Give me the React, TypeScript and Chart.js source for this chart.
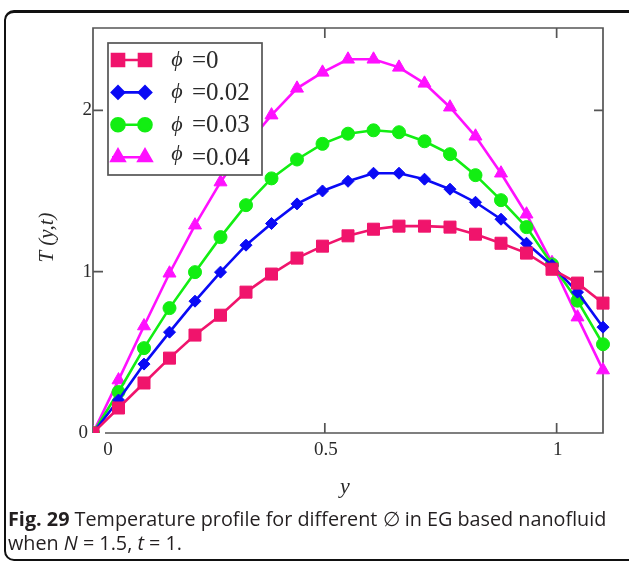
import React, { useEffect, useRef } from 'react';
import { Chart, registerables } from 'chart.js';
import { drawPoint } from 'chart.js/helpers';

Chart.register(...registerables);

// y positions (horizontal axis)
const yPositions = [0, 0.055, 0.11, 0.165, 0.22, 0.275, 0.33, 0.385, 0.44, 0.495, 0.55, 0.605, 0.66, 0.715, 0.77, 0.825, 0.88, 0.935, 0.99, 1.045, 1.1];

// T(y,t) for each phi
const tPhi0 = [0, 0.155, 0.31, 0.464, 0.607, 0.73, 0.873, 0.985, 1.084, 1.158, 1.222, 1.263, 1.282, 1.282, 1.276, 1.232, 1.176, 1.115, 1.015, 0.929, 0.805];
const tPhi002 = [0, 0.204, 0.427, 0.625, 0.817, 0.997, 1.164, 1.298, 1.42, 1.5, 1.56, 1.61, 1.61, 1.573, 1.511, 1.43, 1.325, 1.176, 1.04, 0.873, 0.656];
const tPhi003 = [0, 0.254, 0.526, 0.774, 0.997, 1.214, 1.412, 1.578, 1.695, 1.792, 1.855, 1.876, 1.864, 1.808, 1.728, 1.598, 1.443, 1.276, 1.045, 0.82, 0.55];
const tPhi004 = [0, 0.328, 0.663, 0.99, 1.288, 1.555, 1.78, 1.97, 2.136, 2.235, 2.316, 2.316, 2.266, 2.167, 2.019, 1.839, 1.61, 1.356, 1.055, 0.718, 0.39];

const seriesLabels = ['=0', '=0.02', '=0.03', '=0.04'];
const seriesColors = ['#f0146c', '#0a0af5', '#12ee12', '#ff10ff'];
const seriesStyles = ['rect', 'rectRot', 'circle', 'triangle'];
const seriesRadius = [8.5, 6, 6.5, 7.5];

const xTickValues = [0, 0.5, 1];
const xTickLabels = ['0', '0.5', '1'];
const yTickValues = [0, 1, 2];
const yTickLabels = ['0', '1', '2'];
const xTitle = 'y';
const yTitle = 'T (y,t)';
const phiSymbol = '\u03D5';

const X_MIN = 0;
const X_MAX = 1.1;
const Y_MIN = 0;
const Y_MAX = 2.51;

const AXIS_COLOR = '#555';
const TEXT_COLOR = '#2a2a2a';

const decorPlugin = {
  id: 'decor',
  beforeDatasetsDraw(chart: any) {
    const { ctx, chartArea: a, scales } = chart;
    const xs = scales.x;
    const ys = scales.y;
    ctx.save();
    ctx.strokeStyle = AXIS_COLOR;
    ctx.lineWidth = 1.7;
    ctx.beginPath();
    ctx.moveTo(a.left + 12, a.bottom);
    ctx.lineTo(a.right, a.bottom);
    ctx.lineTo(a.right, a.top);
    ctx.lineTo(a.left, a.top);
    ctx.lineTo(a.left, a.bottom);
    ctx.stroke();
    // ticks (inside)
    ctx.beginPath();
    xTickValues.forEach((v) => {
      if (v === X_MIN) return;
      const px = xs.getPixelForValue(v);
      ctx.moveTo(px, a.bottom);
      ctx.lineTo(px, a.bottom - 10);
      ctx.moveTo(px, a.top);
      ctx.lineTo(px, a.top + 10);
    });
    yTickValues.forEach((v) => {
      if (v === Y_MIN) return;
      const py = ys.getPixelForValue(v);
      ctx.moveTo(a.left, py);
      ctx.lineTo(a.left + 10, py);
      ctx.moveTo(a.right, py);
      ctx.lineTo(a.right - 9, py);
    });
    ctx.stroke();

    // tick labels
    ctx.fillStyle = TEXT_COLOR;
    ctx.font = '19px "Liberation Serif", "Times New Roman", serif';
    ctx.textAlign = 'center';
    ctx.textBaseline = 'middle';
    xTickValues.forEach((v, i) => {
      const px = xs.getPixelForValue(v) + (v === X_MIN ? 15 : 1);
      ctx.fillText(xTickLabels[i], px, a.bottom + 17);
    });
    ctx.textAlign = 'right';
    yTickValues.forEach((v, i) => {
      const py = ys.getPixelForValue(v);
      ctx.fillText(yTickLabels[i], a.left - (v === Y_MIN ? 5 : 1), py);
    });

    // axis titles
    ctx.font = 'italic 22px "Liberation Serif", "Times New Roman", serif';
    ctx.textAlign = 'center';
    ctx.fillText(xTitle, (a.left + a.right) / 2 - 3, a.bottom + 54);
    ctx.save();
    ctx.translate(47, (a.top + a.bottom) / 2 + 7);
    ctx.rotate(-Math.PI / 2);
    ctx.font = 'italic 21px "Liberation Serif", "Times New Roman", serif';
    ctx.fillText(yTitle, 0, 0);
    ctx.restore();
    ctx.restore();
  },
  afterDatasetsDraw(chart: any) {
    const { ctx, chartArea: a } = chart;
    ctx.save();
    const bx = a.left + 15;
    const by = a.top + 15;
    const bw = 154;
    const bh = 132;
    ctx.fillStyle = '#fff';
    ctx.fillRect(bx, by, bw, bh);
    ctx.strokeStyle = AXIS_COLOR;
    ctx.lineWidth = 1.7;
    ctx.strokeRect(bx, by, bw, bh);
    seriesLabels.forEach((lab, i) => {
      const ly = by + 17 + i * 32.4;
      const c = seriesColors[i];
      ctx.strokeStyle = c;
      ctx.fillStyle = c;
      ctx.lineWidth = 2.6;
      ctx.beginPath();
      ctx.moveTo(bx + 4, ly);
      ctx.lineTo(bx + 42, ly);
      ctx.stroke();
      const opts = { pointStyle: seriesStyles[i], rotation: 0, radius: seriesRadius[i], borderWidth: 1 };
      drawPoint(ctx, opts as any, bx + 10, ly);
      drawPoint(ctx, opts as any, bx + 37, ly);
      ctx.fillStyle = TEXT_COLOR;
      ctx.textBaseline = 'middle';
      ctx.textAlign = 'center';
      ctx.font = 'italic 22px "Liberation Serif", "DejaVu Serif", serif';
      ctx.fillText(phiSymbol, bx + 69, ly + (i === 3 ? -3 : 0));
      ctx.textAlign = 'left';
      ctx.font = '25px "Liberation Serif", "Times New Roman", serif';
      ctx.fillText(lab, bx + 84, ly + 1);
    });
    ctx.restore();
  },
};

export default function App() {
  const canvasRef = useRef<HTMLCanvasElement | null>(null);

  useEffect(() => {
    const canvas = canvasRef.current;
    if (!canvas) return;
    const series = [tPhi0, tPhi002, tPhi003, tPhi004];
    const chart = new Chart(canvas, {
      type: 'line',
      data: {
        datasets: series.map((vals, i) => ({
          label: seriesLabels[i],
          data: yPositions.map((x, j) => ({ x, y: vals[j] })),
          borderColor: seriesColors[i],
          backgroundColor: seriesColors[i],
          pointBackgroundColor: seriesColors[i],
          pointBorderColor: seriesColors[i],
          borderWidth: 2.6,
          pointStyle: seriesStyles[i] as any,
          pointRadius: seriesRadius[i],
          pointBorderWidth: 1,
          tension: 0,
          fill: false,
          clip: { left: 0, bottom: 0, top: false, right: false } as any,
        })),
      },
      options: {
        responsive: false,
        animation: false,
        events: [],
        layout: { padding: { left: 93, top: 28, right: 26, bottom: 132 } },
        plugins: { legend: { display: false }, tooltip: { enabled: false }, title: { display: false } },
        scales: {
          x: {
            type: 'linear',
            min: X_MIN,
            max: X_MAX,
            display: false,
          },
          y: {
            type: 'linear',
            min: Y_MIN,
            max: Y_MAX,
            display: false,
          },
        },
      },
      plugins: [decorPlugin],
    });
    return () => chart.destroy();
  }, []);

  return (
    <div style={{ position: 'fixed', left: 0, top: 0, width: 629, height: 565, background: '#fff', overflow: 'hidden' }}>
      <div
        style={{
          position: 'absolute',
          left: 4,
          top: 10,
          width: 640,
          height: 551,
          borderTop: '3px solid #111',
          borderLeft: '2px solid #111',
          borderBottom: '2px solid #111',
          borderRight: '2px solid #111',
          borderRadius: 10,
          boxSizing: 'border-box',
        }}
      />
      <canvas ref={canvasRef} width={629} height={565} style={{ position: 'absolute', left: 0, top: 0, display: 'block' }} />
      <div
        style={{
          position: 'absolute',
          left: 8,
          top: 507,
          whiteSpace: 'nowrap',
          fontFamily: '"Open Sans", "Noto Sans", sans-serif',
          fontSize: 19.8,
          lineHeight: '24px',
          color: '#231f20',
        }}
      >
        <span style={{ fontWeight: 700 }}>Fig. 29</span> Temperature profile for different ∅ in EG based nanofluid
        <br />
        when <i>N</i> = 1.5, <i>t</i> = 1.
      </div>
    </div>
  );
}
